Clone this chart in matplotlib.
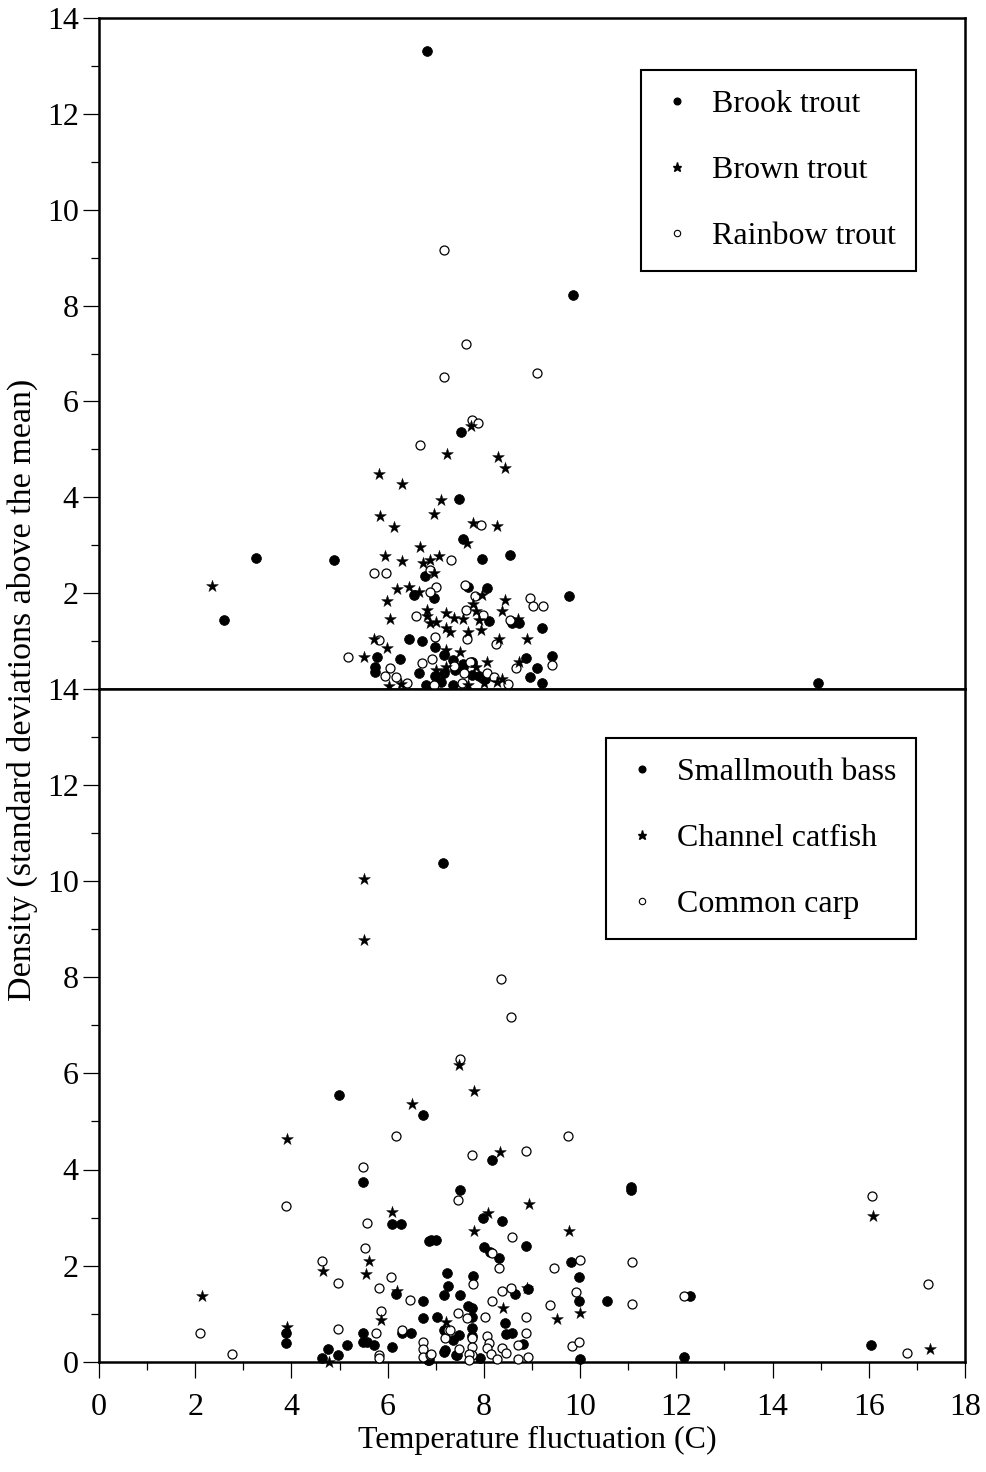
import matplotlib
matplotlib.use("Agg")
import matplotlib.pyplot as plt
from matplotlib.lines import Line2D
from matplotlib.ticker import MultipleLocator

plt.rcParams['font.family'] = ['Liberation Serif', 'DejaVu Serif']

# ---------------- data: top panel (trout) ----------------
brook_x = [6.82, 9.85, 3.27, 4.88, 2.60, 14.95, 9.77, 7.53, 7.48, 7.57, 7.96, 8.54, 6.77, 6.55, 6.97,
           8.06, 7.66, 8.10, 8.59, 8.73, 9.20, 6.44, 6.72, 6.99, 5.78, 5.74, 5.74, 6.26, 7.18, 7.36,
           7.57, 7.76, 6.65, 6.99, 7.90, 8.87, 9.11, 9.42, 8.96, 9.20, 6.79, 7.35,
           7.18, 7.57, 7.76, 7.40, 8.03, 7.10]
brook_y = [13.32, 8.23, 2.74, 2.70, 1.43, 0.12, 1.93, 5.37, 3.96, 3.12, 2.72, 2.80, 2.35, 1.97, 1.90,
           2.11, 2.13, 1.42, 1.37, 1.38, 1.28, 1.04, 1.01, 0.88, 0.67, 0.46, 0.36, 0.62, 0.71, 0.60,
           0.53, 0.57, 0.34, 0.27, 0.27, 0.65, 0.43, 0.69, 0.24, 0.13, 0.08, 0.08,
           0.34, 0.46, 0.30, 0.40, 0.20, 0.15]

brown_x = [2.35, 5.51, 7.74, 7.24, 8.29, 8.43, 5.81, 6.29, 7.10, 6.97, 5.84, 6.14, 7.78, 8.28, 7.64,
           6.67, 5.95, 6.30, 6.74, 6.87, 7.07, 6.97, 6.20, 6.44, 6.65, 7.97, 5.98, 8.44, 7.78, 7.83,
           8.38, 6.82, 6.05, 6.81, 7.00, 6.89, 7.22, 7.37, 7.57, 7.90, 7.94, 7.21, 7.30, 7.68, 8.70,
           8.90, 8.32, 5.72, 5.99, 7.21, 7.50, 8.06, 8.72, 7.21, 7.83, 7.00, 6.03, 6.27, 7.66, 8.00,
           8.27, 8.38]
brown_y = [2.15, 0.67, 5.48, 4.91, 4.85, 4.61, 4.49, 4.28, 3.94, 3.66, 3.60, 3.37, 3.46, 3.40, 3.05,
           2.96, 2.77, 2.67, 2.62, 2.69, 2.78, 2.41, 2.09, 2.13, 2.03, 1.96, 1.83, 1.85, 1.78, 1.63,
           1.62, 1.65, 1.47, 1.53, 1.40, 1.37, 1.58, 1.49, 1.47, 1.44, 1.24, 1.28, 1.19, 1.19, 1.46,
           1.04, 1.04, 1.04, 0.85, 0.81, 0.78, 0.57, 0.57, 0.46, 0.46, 0.40, 0.06, 0.10, 0.08, 0.13,
           0.15, 0.20]

rainbow_x = [7.17, 7.63, 9.10, 7.17, 7.76, 7.87, 6.67, 7.95, 7.31, 5.72, 5.96, 6.88, 7.00, 6.88, 7.60,
             7.82, 8.96, 9.03, 9.22, 7.62, 7.99, 8.55, 6.58, 5.81, 6.99, 7.65, 8.26, 6.93, 6.71, 6.04,
             5.95, 6.17, 6.41, 7.38, 7.59, 7.71, 8.07, 8.20, 8.66, 9.42, 8.51, 6.96, 7.55, 5.18]
rainbow_y = [9.15, 7.19, 6.60, 6.52, 5.62, 5.55, 5.10, 3.42, 2.70, 2.41, 2.42, 2.48, 2.13, 2.03, 2.16,
             1.94, 1.90, 1.73, 1.73, 1.65, 1.54, 1.45, 1.52, 1.02, 1.09, 1.04, 0.93, 0.62, 0.54, 0.43,
             0.27, 0.24, 0.13, 0.48, 0.34, 0.57, 0.33, 0.24, 0.44, 0.50, 0.10, 0.08, 0.12, 0.67]

# ---------------- data: bottom panel (warm-water species) ----------------
bass_x = [7.15, 4.98, 6.74, 8.17, 5.49, 6.08, 6.28, 6.85, 6.90, 7.00, 6.17, 6.73, 6.73, 3.88, 3.88,
          4.77, 4.63, 4.97, 5.16, 5.49, 5.49, 5.58, 5.72, 6.08, 6.29, 6.48, 7.03, 6.83, 7.20, 7.42,
          7.51, 7.99, 8.37, 8.01, 8.12, 8.32, 8.87, 9.81, 9.97, 7.23, 7.26, 7.77, 7.17, 7.50, 8.64,
          8.92, 9.97, 10.56, 7.66, 7.76, 7.76, 7.76, 7.76, 8.44, 8.45, 8.59, 8.81, 7.17, 7.35, 7.48,
          7.17, 7.45, 7.92, 10.00, 6.86, 11.06, 11.06, 12.28, 12.16, 16.04]
bass_y = [10.37, 5.55, 5.14, 4.20, 3.74, 2.86, 2.86, 2.52, 2.53, 2.53, 1.41, 1.26, 0.90, 0.60, 0.38,
          0.26, 0.07, 0.14, 0.35, 0.59, 0.42, 0.40, 0.35, 0.31, 0.59, 0.59, 0.94, 0.03, 0.24, 0.14,
          3.57, 3.00, 2.93, 2.38, 2.28, 2.15, 2.41, 2.07, 1.76, 1.85, 1.58, 1.78, 1.39, 1.39, 1.40,
          1.51, 1.26, 1.26, 1.16, 1.11, 0.94, 0.71, 0.54, 0.81, 0.57, 0.60, 0.37, 0.66, 0.45, 0.56,
          0.21, 0.14, 0.07, 0.06, 0.04, 3.58, 3.64, 1.37, 0.09, 0.35]

catfish_x = [5.51, 5.51, 3.91, 6.50, 7.48, 7.80, 8.34, 8.94, 8.09, 7.80, 9.77, 8.90, 8.40, 9.51, 10.00,
             7.22, 6.10, 5.61, 4.66, 5.54, 6.20, 5.87, 3.91, 4.78, 2.14, 16.08, 17.28]
catfish_y = [10.05, 8.78, 4.63, 5.36, 6.17, 5.64, 4.36, 3.28, 3.09, 2.73, 2.71, 1.53, 1.12, 0.89, 1.02,
             0.83, 3.11, 2.10, 1.89, 1.83, 1.48, 0.86, 0.73, 0.00, 1.36, 3.03, 0.26]

carp_x = [8.36, 8.56, 7.51, 9.74, 6.17, 5.49, 3.88, 5.58, 5.52, 4.63, 4.97, 6.07, 5.83, 6.47, 5.87,
          4.97, 5.76, 6.29, 6.73, 6.73, 6.73, 5.82, 5.82, 2.77, 2.10, 6.88, 7.20, 7.25, 7.76, 8.87,
          7.47, 8.59, 8.17, 8.32, 9.46, 10.00, 7.77, 8.37, 8.56, 8.17, 9.92, 9.38, 7.47, 7.64, 8.02,
          8.87, 8.87, 7.30, 8.07, 8.10, 8.07, 8.37, 8.70, 8.46, 8.14, 8.28, 8.70, 8.92, 7.76, 7.76,
          7.76, 7.48, 7.69, 6.90, 7.69, 9.84, 9.97, 11.07, 11.07, 12.16, 16.06, 16.80, 17.24]
carp_y = [7.96, 7.17, 6.29, 4.70, 4.70, 4.05, 3.24, 2.88, 2.37, 2.10, 1.63, 1.77, 1.54, 1.28, 1.06,
          0.69, 0.60, 0.66, 0.40, 0.26, 0.10, 0.14, 0.08, 0.15, 0.60, 0.13, 0.49, 0.66, 4.30, 4.39,
          3.37, 2.60, 2.26, 1.94, 1.96, 2.12, 1.61, 1.48, 1.53, 1.27, 1.46, 1.19, 1.01, 0.90, 0.92,
          0.94, 0.59, 0.66, 0.53, 0.38, 0.29, 0.28, 0.35, 0.19, 0.16, 0.05, 0.05, 0.09, 0.49, 0.31,
          0.14, 0.26, 0.16, 0.17, 0.03, 0.33, 0.40, 2.07, 1.20, 1.37, 3.45, 0.18, 1.62]

top_labels = ['Brook trout', 'Brown trout', 'Rainbow trout']
bottom_labels = ['Smallmouth bass', 'Channel catfish', 'Common carp']

# ---------------- figure ----------------
W, H = 987, 1472
fig = plt.figure(figsize=(W / 100, H / 100), dpi=100)
left = 99 / W
width = (965 - 99) / W
y_mid = 1 - 689 / H
y_top = 1 - 18 / H
y_bot = 1 - 1361.7 / H
ax_top = fig.add_axes([left, y_mid, width, y_top - y_mid])
ax_bot = fig.add_axes([left, y_bot, width, y_mid - y_bot])

FS = 23
SPINE_W = 1.8


def style(ax, show_x):
    ax.set_xlim(0, 18)
    ax.set_ylim(0, 14)
    for sp in ax.spines.values():
        sp.set_linewidth(SPINE_W)
        sp.set_color('black')
    ax.yaxis.set_major_locator(MultipleLocator(2))
    ax.yaxis.set_minor_locator(MultipleLocator(1))
    ax.xaxis.set_major_locator(MultipleLocator(2))
    ax.xaxis.set_minor_locator(MultipleLocator(1))
    ax.tick_params(axis='y', which='major', direction='out', length=11.5, width=0.9,
                   labelsize=FS, pad=3, right=False)
    ax.tick_params(axis='y', which='minor', direction='out', length=5.8, width=0.9, right=False)
    if show_x:
        ax.tick_params(axis='x', which='major', direction='out', length=11.5, width=0.9,
                       labelsize=FS, pad=11, top=False)
        ax.tick_params(axis='x', which='minor', direction='out', length=5.8, width=0.9, top=False)
    else:
        ax.tick_params(axis='x', which='both', bottom=False, top=False, labelbottom=False)


def draw(ax, filled, star, opened):
    ax.scatter(filled[0], filled[1], s=50, marker='o', facecolor='black', edgecolor='black',
               linewidths=0.5, clip_on=False, zorder=3)
    ax.scatter(opened[0], opened[1], s=42, marker='o', facecolor='white', edgecolor='black',
               linewidths=0.9, clip_on=False, zorder=4)
    ax.scatter(star[0], star[1], s=80, marker='*', facecolor='black', edgecolor='black',
               linewidths=0.3, clip_on=False, zorder=5)


def legend(ax, labels, anchor):
    handles = [
        Line2D([], [], linestyle='none', marker='o', markersize=4.8, markerfacecolor='black',
               markeredgecolor='black'),
        Line2D([], [], linestyle='none', marker='*', markersize=6.5, markerfacecolor='black',
               markeredgecolor='black'),
        Line2D([], [], linestyle='none', marker='o', markersize=4.6, markerfacecolor='white',
               markeredgecolor='black', markeredgewidth=0.8),
    ]
    leg = ax.legend(handles, labels, loc='upper right', bbox_to_anchor=anchor,
                    fontsize=FS, frameon=True, fancybox=False, framealpha=1,
                    borderpad=0.62, labelspacing=1.15, handlelength=1.0, handletextpad=0.6,
                    borderaxespad=0)
    fr = leg.get_frame()
    fr.set_edgecolor('black')
    fr.set_linewidth(1.5)
    leg.set_zorder(10)


style(ax_top, False)
style(ax_bot, True)

draw(ax_top, (brook_x, brook_y), (brown_x, brown_y), (rainbow_x, rainbow_y))
draw(ax_bot, (bass_x, bass_y), (catfish_x, catfish_y), (carp_x, carp_y))

# hide the top panel's 0 label (the lower panel's 14 sits there)
ax_top.set_yticks([2, 4, 6, 8, 10, 12, 14])
ax_top.yaxis.set_minor_locator(MultipleLocator(1))

legend(ax_top, top_labels, ((916 - 99) / 866, (689 - 70) / 671))
legend(ax_bot, bottom_labels, ((916 - 99) / 866, (1361.7 - 738) / 672.7))

fig.text(22 / W, 1 - 690 / H, 'Density (standard deviations above the mean)', rotation=90,
         ha='center', va='center', fontsize=24.5)
fig.text(537 / W, 1 - 1440 / H, 'Temperature fluctuation (C)', ha='center', va='center',
         fontsize=FS)

fig.savefig('out.png', dpi=100)
